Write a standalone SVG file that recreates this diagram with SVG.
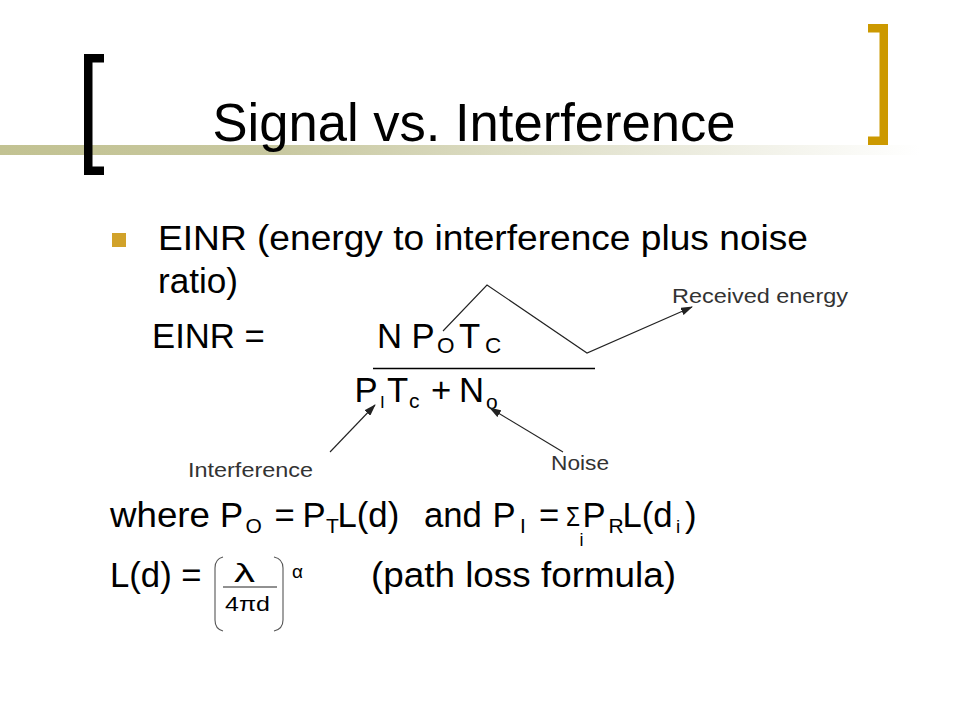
<svg xmlns="http://www.w3.org/2000/svg" width="960" height="720" viewBox="0 0 960 720">
<defs>
<linearGradient id="bar" x1="0" y1="0" x2="1" y2="0">
<stop offset="0" stop-color="#C2C292"/>
<stop offset="0.3" stop-color="#C8C8A0"/>
<stop offset="0.7" stop-color="#E8E8D8"/>
<stop offset="1" stop-color="#FFFFFF"/>
</linearGradient>
<marker id="ah" markerWidth="12" markerHeight="8" refX="11" refY="4" orient="auto" markerUnits="userSpaceOnUse">
<path d="M0,0 L12,4 L0,8 z" fill="#222"/>
</marker>
<style>
.t{font-family:"Liberation Sans",Arial,sans-serif;fill:#000}
.b{font-size:34.7px}
.s{font-size:21px}
.lbl{font-family:"Liberation Sans",Arial,sans-serif;font-size:20px;fill:#333}
.con{stroke:#222;stroke-width:1.1;fill:none}
.par{stroke:#555;stroke-width:1.1;fill:none}
</style>
</defs>
<rect width="960" height="720" fill="#fff"/>
<g id="decor">
<rect x="0" y="145" width="920" height="10" fill="url(#bar)"/>
<path d="M84,54 H104 V62.5 H92.5 V166.5 H104 V175 H84 Z" fill="#000"/>
<path d="M868,24 H888 V145 H868 V136.5 H879.5 V32.5 H868 Z" fill="#CC9900"/>
</g>
<g id="title">
<text class="t" x="212.5" y="141" font-size="54" textLength="523" lengthAdjust="spacingAndGlyphs">Signal vs. Interference</text>
</g>
<g id="bullet">
<rect x="112" y="233" width="14" height="14" fill="#D1A22A"/>
<text class="t b" x="158" y="250" textLength="650" lengthAdjust="spacingAndGlyphs">EINR (energy to interference plus noise</text>
<text class="t b" x="158" y="293" textLength="80" lengthAdjust="spacingAndGlyphs">ratio)</text>
</g>
<g id="einr">
<text class="t b" x="152" y="348">EINR =</text>
<text class="t b" x="377" y="348">N</text>
<text class="t b" x="411.5" y="348">P</text>
<text class="t" x="437" y="353" font-size="22.5">O</text>
<text class="t b" x="459" y="348">T</text>
<text class="t" x="485" y="353" font-size="22.5">C</text>
<line x1="373" y1="368.5" x2="595" y2="368.5" stroke="#000" stroke-width="1.3"/>
<text class="t b" x="354.5" y="402">P</text>
<text class="t" x="380" y="408" font-size="17">I</text>
<text class="t b" x="387" y="402">T</text>
<text class="t" x="409" y="408" font-size="21">c</text>
<text class="t b" x="431" y="402">+</text>
<text class="t b" x="459" y="402">N</text>
<text class="t" x="486" y="409" font-size="21">o</text>
</g>
<g id="label-received">
<text class="lbl" x="672" y="303" textLength="176" lengthAdjust="spacingAndGlyphs">Received energy</text>
</g>
<g id="label-interference">
<text class="lbl" x="188" y="477" textLength="125" lengthAdjust="spacingAndGlyphs">Interference</text>
</g>
<g id="label-noise">
<text class="lbl" x="551" y="470" textLength="58" lengthAdjust="spacingAndGlyphs">Noise</text>
</g>
<g id="connectors">
<polyline class="con" points="443,331 487,285 587,353 692,307" marker-end="url(#ah)"/>
<line class="con" x1="330" y1="452" x2="375" y2="405" marker-end="url(#ah)"/>
<line class="con" x1="563" y1="452" x2="490" y2="408" marker-end="url(#ah)"/>
</g>
<g id="where">
<text class="t b" x="110" y="527" textLength="100" lengthAdjust="spacingAndGlyphs">where</text>
<text class="t b" x="220" y="527">P</text>
<text class="t s" x="245.5" y="533">O</text>
<text class="t b" x="274.5" y="527">=</text>
<text class="t b" x="302.5" y="527">P</text>
<text class="t s" x="326" y="533">T</text>
<text class="t b" x="337.5" y="527">L(d)</text>
<text class="t b" x="424" y="527">and</text>
<text class="t b" x="492.5" y="527">P</text>
<text class="t s" x="520" y="533">I</text>
<text class="t b" x="539" y="527">=</text>
<text class="t" x="566" y="526" font-size="28" textLength="14" lengthAdjust="spacingAndGlyphs">Σ</text>
<text class="t" x="579.5" y="546" font-size="18">i</text>
<text class="t b" x="582.5" y="527">P</text>
<text class="t s" x="608.5" y="533">R</text>
<text class="t b" x="622.5" y="527">L(d</text>
<text class="t" x="676" y="533" font-size="19">i</text>
<text class="t b" x="685" y="527">)</text>
</g>
<g id="pathloss">
<text class="t b" x="110" y="587">L(d) =</text>
<path class="par" d="M223,557 Q215,559 215,568 L215,620 Q215,629 223,631"/>
<path class="par" d="M274,557 Q283,559 283,568 L283,620 Q283,629 274,631"/>
<text class="t" x="234" y="582" font-size="26" textLength="21" lengthAdjust="spacingAndGlyphs">λ</text>
<line x1="223" y1="587" x2="277" y2="587" stroke="#222" stroke-width="1"/>
<text class="t" x="225" y="610.5" font-size="20.5" textLength="45" lengthAdjust="spacingAndGlyphs">4πd</text>
<text class="t" x="292" y="578" font-size="19" fill="#444">α</text>
<text class="t b" x="371" y="587" textLength="305" lengthAdjust="spacingAndGlyphs">(path loss formula)</text>
</g>
</svg>
